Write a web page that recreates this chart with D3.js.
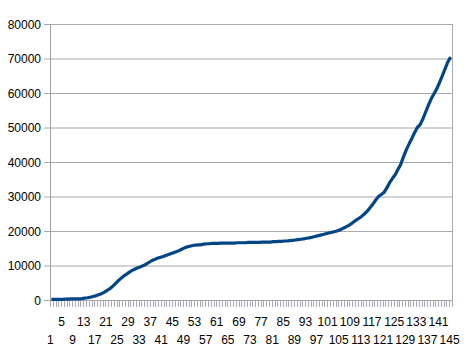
<!DOCTYPE html>
<html><head><meta charset="utf-8">
<script src="https://cdn.jsdelivr.net/npm/d3@7"></script>
<style>body{margin:0;background:#fff}svg{display:block}text{font-family:"Liberation Sans",Arial,sans-serif;font-size:12px;fill:#000}</style>
</head><body><svg id="c" width="472" height="355"></svg>
<script>
const values = [
200,200,200,200,200,250,250,300,300,300,
300,400,550,650,800,1000,1200,1500,1800,2200,
2700,3200,3900,4700,5500,6200,6900,7400,8000,8500,
8900,9300,9600,9900,10300,10800,11300,11700,12000,12300,
12500,12800,13100,13400,13700,14000,14300,14700,15100,15400,
15600,15800,15900,16000,16000,16200,16300,16300,16400,16400,
16400,16500,16500,16500,16500,16500,16500,16600,16600,16600,
16600,16700,16700,16700,16700,16700,16800,16800,16800,16800,
16900,16900,17000,17000,17100,17100,17200,17300,17400,17500,
17600,17700,17900,18000,18200,18400,18600,18800,19000,19200,
19400,19600,19800,20000,20300,20700,21100,21500,22000,22600,
23200,23700,24300,25000,25800,26800,27800,29000,30000,30600,
31200,32500,34000,35200,36300,37800,39300,41500,43500,45200,
46800,48500,50000,50800,52500,54500,56500,58300,59800,61200,
63000,65000,67000,69000,70400
];
const categories = values.map((d,i)=>String(i+1));
const yTicks = [0,10000,20000,30000,40000,50000,60000,70000,80000];

const svg = d3.select("#c");
const L=50, R=452, T=24, B=300;
const x = d3.scaleBand().domain(categories).range([L,R]).padding(0);
const y = d3.scaleLinear().domain([0,80000]).range([B,T]);

// gridlines
svg.append("g").selectAll("line").data(yTicks).join("line")
  .attr("x1",L-6).attr("x2",R).attr("y1",d=>y(d)+0.5).attr("y2",d=>y(d)+0.5)
  .attr("stroke","#a8a8b0").attr("stroke-width",1);
// right border
svg.append("line").attr("x1",R+0.5).attr("x2",R+0.5).attr("y1",T).attr("y2",B)
  .attr("stroke","#a8a8b0");
// left axis
svg.append("line").attr("x1",L+0.5).attr("x2",L+0.5).attr("y1",T).attr("y2",B+7)
  .attr("stroke","#a0a0b0");
// x ticks at category boundaries
const bounds = categories.map(c=>x(c)).concat([R]);
svg.append("g").selectAll("line").data(bounds).join("line")
  .attr("x1",d=>Math.round(d)+0.5).attr("x2",d=>Math.round(d)+0.5)
  .attr("y1",B).attr("y2",B+7).attr("stroke","#a8a8b8").attr("stroke-width",1);

// y labels
svg.append("g").selectAll("text").data(yTicks).join("text")
  .attr("x",L-9).attr("y",d=>y(d)+4.5).attr("text-anchor","end").text(d=>d);

// x labels every 4th, alternating rows
const labelCats = categories.filter((c,i)=>i%4===0);
svg.append("g").selectAll("text").data(labelCats).join("text")
  .attr("x",d=>x(d)+x.bandwidth()/2 - 1)
  .attr("y",(d,i)=> i%2===0 ? 344 : 326)
  .attr("text-anchor","middle").text(d=>d);

// line
const line = d3.line().x((d,i)=>x(categories[i])+x.bandwidth()/2).y(d=>y(d));
svg.append("path").datum(values).attr("d",line).attr("fill","none")
  .attr("stroke","#004586").attr("stroke-width",3.2).attr("stroke-linejoin","round");
</script></body></html>
